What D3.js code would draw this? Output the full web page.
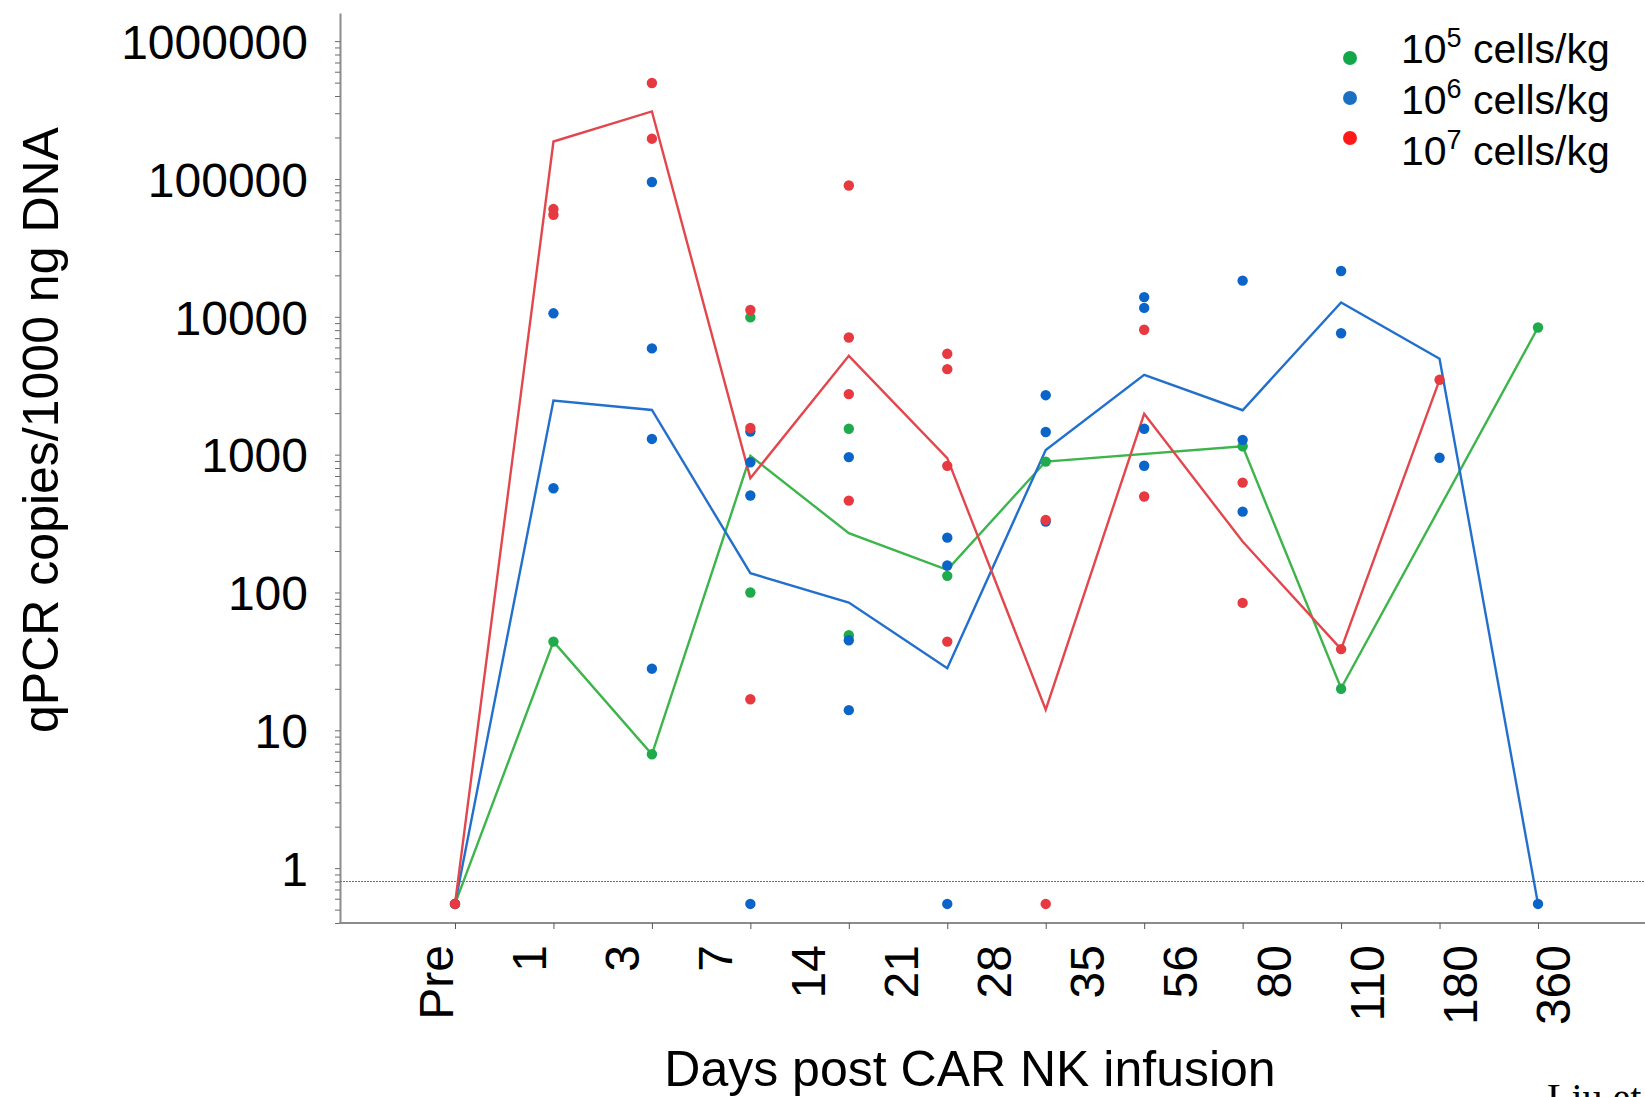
<!DOCTYPE html>
<html>
<head>
<meta charset="utf-8">
<script src="https://cdn.jsdelivr.net/npm/d3@7"></script>
<style>
    html, body { margin: 0; padding: 0; background: #fff; }
    svg { display: block; }
</style>
</head>
<body>
<div id="chart"></div>
<script>
// labels printed under the x axis
var dayLabels = ["Pre", "1", "3", "7", "14", "21", "28", "35", "56", "80", "110", "180", "360"];
// sampling visits, one column of dots each
var visits = [0, 1, 2, 3, 4, 5, 6, 7, 8, 9, 10, 11];
// labelled decades on the log axis
var yTickLabels = [1, 10, 100, 1000, 10000, 100000, 1000000];

var ND = 0.55;  // not detected, drawn under the detection line
var LOD = 0.8;  // detection limit line

// single patients, [visit, copies]
var dose5Points = [[0, ND], [1, 44], [2, 6.7], [3, 9900], [3, 100], [4, 1540], [4, 49], [5, 132], [6, 890],
    [8, 1150], [9, 20], [11, 8360]];
var dose6Points = [[0, ND], [1, 10600], [1, 570], [2, 95000], [2, 5900], [2, 1300], [2, 28], [3, 1470], [3, 880],
    [3, 505], [3, ND], [4, 960], [4, 45], [4, 14], [5, 250], [5, 157], [5, ND], [6, 2700], [6, 1460], [6, 327],
    [7, 13900], [7, 11600], [7, 1540], [7, 830], [8, 18300], [8, 1280], [8, 386], [9, 21500], [9, 7600],
    [10, 950], [11, ND]];
var dose7Points = [[0, ND], [1, 60500], [1, 55000], [2, 497000], [2, 196000], [3, 11200], [3, 1560], [3, 16.8],
    [4, 89700], [4, 7080], [4, 2750], [4, 464], [5, 5390], [5, 4170], [5, 829], [5, 44], [6, 336], [6, ND],
    [7, 8050], [7, 497], [8, 627], [8, 84], [9, 38.8], [10, 3490]];

// line per dose level at each visit (null = no value)
var dose5Line = [ND, 44, 6.7, 980, 269, 146, 891, null, 1150, 20.2, null, 8360];
var dose6Line = [ND, 2470, 2110, 138, 84.5, 28.2, 1080, 3790, 2100, 12700, 4960, ND];
var dose7Line = [ND, 187000, 309000, 675, 5210, 943, 14.1, 1980, 234, 38.8, 3490, null];

var doseExponents = ["5", "6", "7"];

var option = {
    container: "#chart",
    width: 1645,
    height: 1097,
    left: 340,
    top: 13,
    bottom: 923,
    firstVisit: 455,
    lastVisit: 1538,
    firstLabel: 435,
    lastLabel: 1552
};

function drawChart(options) {
    var font = "'Liberation Sans', Arial, sans-serif";
    var svg = d3.select(options.container)
            .append("svg")
            .attr("width", options.width)
            .attr("height", options.height)
            .style("font-family", font);

    var x = d3.scalePoint().domain(visits).range([options.firstVisit, options.lastVisit]);
    var xLabel = d3.scalePoint().domain(dayLabels).range([options.firstLabel, options.lastLabel]);
    var y = d3.scaleLog().domain([0.4, 1.6e6]).range([options.bottom, options.top]);

    var series = [
        {points: dose5Points, line: dose5Line, dot: "#1faa4b", stroke: "#3db54c", legend: "#12a84a"},
        {points: dose6Points, line: dose6Line, dot: "#0b65c8", stroke: "#2270cc", legend: "#1b6fc2"},
        {points: dose7Points, line: dose7Line, dot: "#e63a40", stroke: "#e2474d", legend: "#ff1a1a"}
    ];

    // every 1..9 x 10^k inside the domain
    var yTicks = [];
    for (var k = -1; k <= 6; k++) {
        for (var m = 1; m <= 9; m++) {
            var v = m * Math.pow(10, k);
            if (v >= 0.4 && v <= 1.6e6) yTicks.push(v);
        }
    }

    var yAxis = svg.append("g")
            .attr("transform", "translate(" + options.left + ",0)")
            .call(d3.axisLeft(y)
                .tickValues(yTicks)
                .tickSize(5)
                .tickSizeOuter(0)
                .tickPadding(27)
                .tickFormat(function (d) { return yTickLabels.indexOf(d) >= 0 ? d : ""; }));
    yAxis.attr("font-family", font).attr("font-size", 48);
    yAxis.select(".domain").attr("stroke", "#8c8c8c").attr("stroke-width", 2);
    yAxis.selectAll(".tick line").attr("stroke", "#6a6a6a");
    yAxis.selectAll(".tick text").attr("fill", "#000").attr("dy", "0.36em");

    // detection limit
    svg.append("line")
            .attr("x1", options.left).attr("x2", options.width)
            .attr("y1", y(LOD)).attr("y2", y(LOD))
            .attr("stroke", "#6f6f6f")
            .attr("stroke-width", 1)
            .attr("stroke-dasharray", "2,1");

    // x axis line runs to the page edge
    svg.append("line")
            .attr("x1", options.left - 1).attr("x2", options.width)
            .attr("y1", options.bottom).attr("y2", options.bottom)
            .attr("stroke", "#8c8c8c")
            .attr("stroke-width", 2);

    var xTicks = svg.append("g")
            .attr("transform", "translate(0," + options.bottom + ")")
            .call(d3.axisBottom(x).tickSize(6).tickFormat(""));
    xTicks.select(".domain").remove();
    xTicks.selectAll(".tick line").attr("stroke", "#555");

    var xText = svg.append("g")
            .attr("transform", "translate(0," + options.bottom + ")")
            .call(d3.axisBottom(xLabel).tickSize(0));
    xText.attr("font-family", font).attr("font-size", 48);
    xText.select(".domain").remove();
    xText.selectAll(".tick text")
            .attr("fill", "#000")
            .attr("transform", "rotate(-90)")
            .attr("text-anchor", "end")
            .attr("x", -22)
            .attr("y", 0)
            .attr("dy", "0.36em");

    var line = d3.line()
            .x(function (d) { return x(d.visit); })
            .y(function (d) { return y(d.value); });

    series.forEach(function (s) {
        var pts = s.line.map(function (v, i) { return {visit: visits[i], value: v}; })
                .filter(function (d) { return d.value != null; });
        svg.append("path")
                .datum(pts)
                .attr("fill", "none")
                .attr("stroke", s.stroke)
                .attr("stroke-width", 2.4)
                .attr("stroke-linejoin", "miter")
                .attr("d", line);
    });

    series.forEach(function (s) {
        svg.append("g").selectAll("circle")
                .data(s.points)
                .enter().append("circle")
                .attr("cx", function (d) { return x(d[0]); })
                .attr("cy", function (d) { return y(d[1]); })
                .attr("r", 5.2)
                .attr("fill", s.dot);
    });

    // legend
    var legend = svg.append("g");
    legend.selectAll("circle")
            .data(series)
            .enter().append("circle")
            .attr("cx", 1350)
            .attr("cy", function (d, i) { return 58 + i * 40; })
            .attr("r", 7)
            .attr("fill", function (d) { return d.legend; });
    var lt = legend.selectAll("text")
            .data(doseExponents)
            .enter().append("text")
            .attr("x", 1401)
            .attr("y", function (d, i) { return 63 + i * 51; })
            .attr("font-size", 41)
            .attr("fill", "#000");
    lt.append("tspan").text("10");
    lt.append("tspan").attr("dy", -16).attr("font-size", 27).text(function (d) { return d; });
    lt.append("tspan").attr("dy", 16).text(" cells/kg");

    // axis titles
    svg.append("text")
            .attr("transform", "translate(58," + 430 + ") rotate(-90)")
            .attr("text-anchor", "middle")
            .attr("font-size", 50)
            .attr("fill", "#000")
            .text("qPCR copies/1000 ng DNA");

    svg.append("text")
            .attr("x", 970)
            .attr("y", 1086)
            .attr("text-anchor", "middle")
            .attr("font-size", 50)
            .attr("fill", "#000")
            .text("Days post CAR NK infusion");

    // citation, cut off by the page edge as in the source
    svg.append("text")
            .attr("x", 1547)
            .attr("y", 1111)
            .attr("font-family", "'Liberation Serif', 'Times New Roman', serif")
            .attr("font-size", 40)
            .attr("fill", "#000")
            .text("Liu et al.");
}

drawChart(option);
</script>
</body>
</html>
